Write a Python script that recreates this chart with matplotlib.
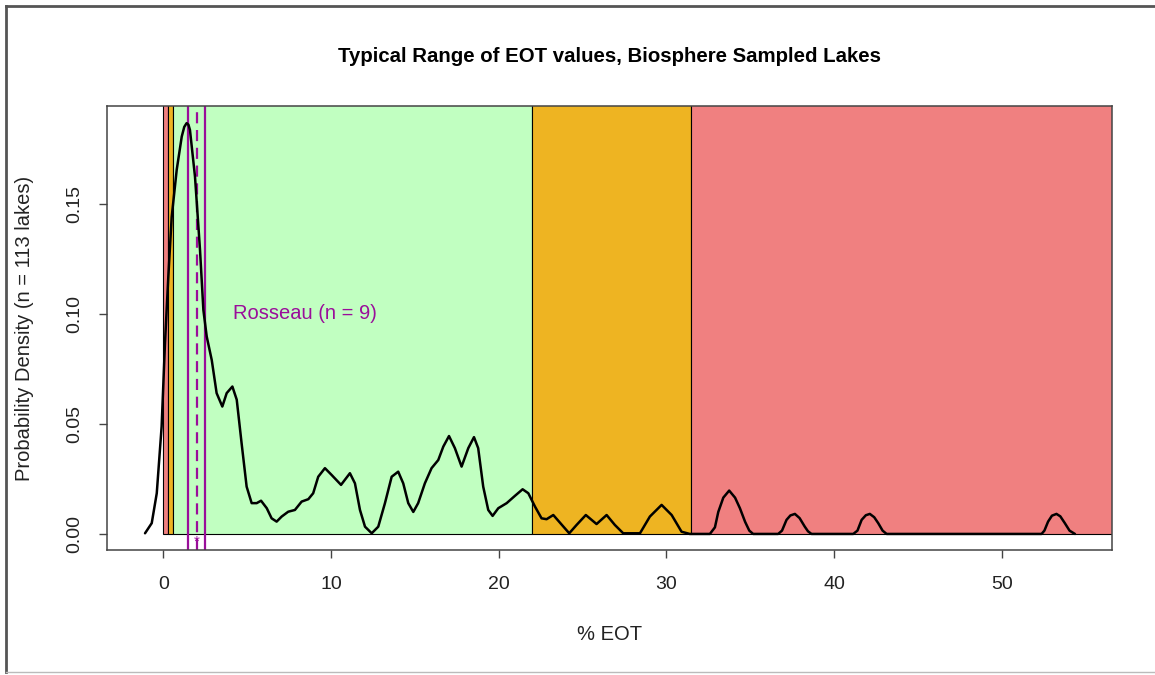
import numpy as np
import matplotlib.pyplot as plt
from matplotlib.lines import Line2D

plt.rcParams['font.family'] = ['Liberation Sans', 'DejaVu Sans']

# Density curve (% EOT, probability density)
dens_x = [-1.09, -0.69, -0.39, -0.10, 0.10, 0.30, 0.50, 0.80, 1.10, 1.25, 1.39, 1.50, 1.59,
          1.89, 2.19, 2.39, 2.59, 2.89, 3.18, 3.52, 3.78, 4.12, 4.38, 4.67, 4.97, 5.27,
          5.57, 5.83, 6.17, 6.46, 6.76, 7.06, 7.45, 7.85, 8.25, 8.65, 8.94, 9.24, 9.64,
          10.04, 10.60, 11.13, 11.43, 11.73, 12.03, 12.43, 12.82, 13.22, 13.62, 14.01,
          14.31, 14.61, 14.91, 15.20, 15.60, 16.00, 16.40, 16.70, 17.04, 17.39, 17.79,
          18.19, 18.53, 18.78, 19.08, 19.38, 19.64, 19.98, 20.48, 20.97, 21.43, 21.77,
          22.17, 22.56, 22.86, 23.26, 23.66, 24.21, 24.65, 25.20, 25.84, 26.44, 26.93,
          27.43, 28.43, 29.02, 29.72, 30.32, 30.91, 31.40, 32.60, 32.90, 33.10, 33.40,
          33.75, 34.10, 34.39, 34.70, 34.95, 35.18, 36.67, 36.90, 37.17, 37.40, 37.67,
          37.95, 38.26, 38.45, 38.66, 41.15, 41.40, 41.65, 41.90, 42.14, 42.40, 42.64,
          42.90, 43.14, 52.38, 52.55, 52.77, 53.00, 53.27, 53.50, 53.77, 54.05, 54.37]
dens_y = [0.0003, 0.0049, 0.0185, 0.0488, 0.0867, 0.1170, 0.1440, 0.1655, 0.1806, 0.1850, 0.1867, 0.1860, 0.1836,
          0.1624, 0.1290, 0.1018, 0.0897, 0.0790, 0.0640, 0.0579, 0.0640, 0.0670, 0.0610, 0.0412, 0.0215, 0.0140,
          0.0140, 0.0151, 0.0117, 0.0071, 0.0056, 0.0079, 0.0101, 0.0109, 0.0147, 0.0158, 0.0185, 0.0260, 0.0299,
          0.0268, 0.0223, 0.0276, 0.0230, 0.0109, 0.0033, 0.0003, 0.0033, 0.0140, 0.0260, 0.0283,
          0.0230, 0.0140, 0.0100, 0.0140, 0.0230, 0.0299, 0.0336, 0.0397, 0.0445, 0.0390, 0.0306,
          0.0390, 0.0440, 0.0390, 0.0215, 0.0109, 0.0082, 0.0117, 0.0140, 0.0173, 0.0203, 0.0185,
          0.0124, 0.0071, 0.0067, 0.0086, 0.0051, 0.0003, 0.0041, 0.0086, 0.0045, 0.0086, 0.0041,
          0.0003, 0.0003, 0.0079, 0.0132, 0.0086, 0.0010, 0.0000, 0.0000, 0.0030, 0.0100, 0.0165,
          0.0197, 0.0165, 0.0117, 0.0055, 0.0015, 0.0000, 0.0000, 0.0015, 0.0064, 0.0084, 0.0091,
          0.0072, 0.0033, 0.0012, 0.0000, 0.0000, 0.0015, 0.0064, 0.0085, 0.0091, 0.0076, 0.0049,
          0.0015, 0.0000, 0.0000, 0.0015, 0.0056, 0.0083, 0.0091, 0.0080, 0.0049, 0.0015, 0.0000]

# trophic class bands (% EOT)
band_lo = [0.0, 0.3, 0.55, 22.0, 31.5]
band_hi = [0.3, 0.55, 22.0, 31.5, 70.0]
band_col = ['#F08080', '#EEB422', '#C1FFC1', '#EEB422', '#F08080']

# Rosseau lake range and mean
rosseau_lo, rosseau_mean, rosseau_hi = 1.5, 2.0, 2.5
rosseau_label = 'Rosseau (n = 9)'

purple = '#9A0E9A'
ink = '#444444'
fs = 14.5

fig = plt.figure(figsize=(11.55, 6.75), dpi=100)
ax = fig.add_axes([107.3 / 1155, 1 - 550 / 675, (1112.3 - 107.3) / 1155, (550 - 106) / 675])

ax.set_xlim(-3.34, 56.6)
ax.set_ylim(-0.0073, 0.1945)

for lo, hi, c in zip(band_lo, band_hi, band_col):
    ax.bar(lo, 0.3, width=hi - lo, bottom=0, align='edge', color=c,
           edgecolor='black', linewidth=0.8, zorder=1)

ax.axvline(rosseau_lo, color=purple, lw=1.6, zorder=2)
ax.axvline(rosseau_hi, color=purple, lw=1.6, zorder=2)
ax.axvline(rosseau_mean, color=purple, lw=1.6, ls=(0, (5, 3)), zorder=2)
ax.text(rosseau_mean, -0.0035, '*', color=purple, ha='center', va='center', fontsize=11, zorder=3)
ax.text(4.15, 0.100, rosseau_label, color=purple, ha='left', va='center', fontsize=fs)

ax.plot(dens_x, dens_y, color='black', lw=1.8, zorder=4,
        solid_joinstyle='round', solid_capstyle='round')

ax.set_xticks([0, 10, 20, 30, 40, 50])
ax.set_yticks([0, 0.05, 0.10, 0.15])
ax.set_yticklabels(['0.00', '0.05', '0.10', '0.15'], rotation=90, va='center')
ax.tick_params(axis='both', length=6, width=1, color=ink, labelcolor='#222222', labelsize=14)
ax.tick_params(axis='x', pad=13)
ax.tick_params(axis='y', pad=11)
for s in ax.spines.values():
    s.set_color(ink)
    s.set_linewidth(1.1)

ax.set_xlabel('% EOT', fontsize=fs, color='#222222')
ax.xaxis.label.set_va('center')
ax.xaxis.set_label_coords(0.5, -(635 - 550) / 444)
ax.set_ylabel('Probability Density (n = 113 lakes)', fontsize=fs, color='#222222')
ax.yaxis.label.set_va('center')
ax.yaxis.set_label_coords(-(107 - 24) / 1005, 0.5)

fig.text(0.5 * (107.3 + 1112.3) / 1155, 1 - 57 / 675, 'Typical Range of EOT values, Biosphere Sampled Lakes',
         ha='center', va='center', fontsize=14.7, fontweight='bold')

# screenshot frame
fig.add_artist(Line2D([6 / 1155, 6 / 1155], [1 - 6 / 675, 1 - 672 / 675], color='#555555', lw=2))
fig.add_artist(Line2D([6 / 1155, 1], [1 - 6 / 675, 1 - 6 / 675], color='#555555', lw=2))
fig.add_artist(Line2D([6 / 1155, 1], [1 - 672 / 675, 1 - 672 / 675], color='#BBBBBB', lw=1))

fig.savefig('out.png', dpi=100)
